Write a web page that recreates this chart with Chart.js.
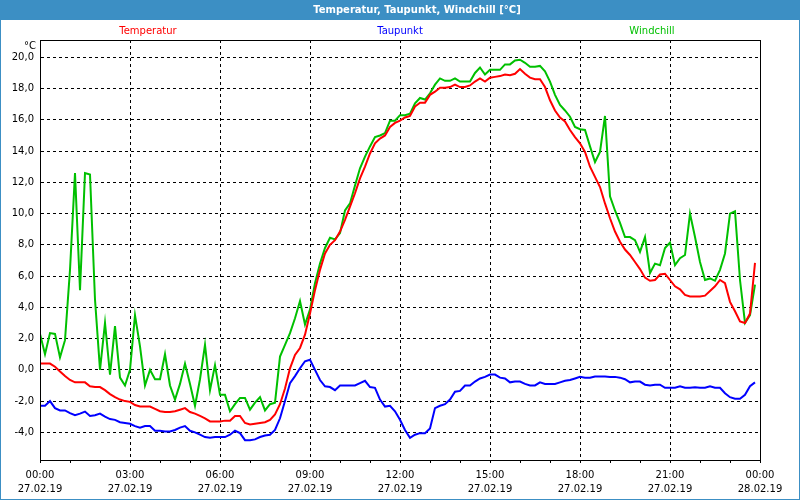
<!DOCTYPE html>
<html>
<head>
<meta charset="utf-8">
<title>Temperatur, Taupunkt, Windchill</title>
<script src="https://cdn.jsdelivr.net/npm/chart.js@4.4.1/dist/chart.umd.min.js"></script>
<style>
  html, body { margin: 0; padding: 0; background: #fff; }
  canvas { display: block; }
</style>
</head>
<body>
<canvas id="chart" width="800" height="500"></canvas>
<script>
// 27.02.19, one value every 10 minutes starting at 00:00
const stepMinutes = 10;

const seriesNames = ['Temperatur', 'Taupunkt', 'Windchill'];
const seriesColors = ['#ff0000', '#0000ff', '#00c000'];

const temperatur = [
  0.4, 0.4, 0.4, 0.2, -0.1, -0.4, -0.65, -0.8, -0.8, -0.8, -1.05, -1.1,
  -1.1, -1.3, -1.55, -1.75, -1.9, -2.0, -2.05, -2.25, -2.35, -2.35, -2.35, -2.5,
  -2.65, -2.7, -2.7, -2.65, -2.55, -2.45, -2.7, -2.8, -2.95, -3.1, -3.3, -3.3,
  -3.3, -3.25, -3.25, -2.95, -2.95, -3.4, -3.5, -3.45, -3.4, -3.35, -3.2, -2.85,
  -2.2, -1.2, 0.1, 0.95, 1.4, 2.25, 3.6, 5.1, 6.4, 7.45, 8.0, 8.3,
  8.85, 9.6, 10.45, 11.3, 12.25, 13.0, 13.85, 14.5, 14.8, 15.0, 15.55, 15.8,
  15.95, 16.15, 16.25, 16.85, 17.1, 17.1, 17.6, 17.8, 18.05, 18.05, 18.1, 18.25,
  18.1, 18.1, 18.2, 18.45, 18.65, 18.45, 18.7, 18.75, 18.8, 18.9, 18.85, 18.95,
  19.25, 18.95, 18.7, 18.6, 18.6, 18.1, 17.25, 16.6, 16.15, 15.9, 15.35, 14.9,
  14.5, 13.95, 13.0, 12.35, 11.7, 10.65, 9.7, 8.85, 8.2, 7.7, 7.35, 6.9,
  6.45, 5.9, 5.7, 5.75, 6.1, 6.15, 5.75, 5.35, 5.15, 4.8, 4.7, 4.7,
  4.7, 4.75, 5.05, 5.35, 5.75, 5.55, 4.35, 3.75, 3.1, 3.0, 3.6, 6.85
];

const taupunkt = [
  -2.3, -2.3, -2.0, -2.45, -2.6, -2.6, -2.77, -2.9, -2.8, -2.67, -2.95, -2.9,
  -2.8, -3.0, -3.15, -3.2, -3.35, -3.4, -3.45, -3.6, -3.7, -3.6, -3.6, -3.9,
  -3.9, -3.95, -3.95, -3.85, -3.7, -3.6, -3.9, -4.0, -4.15, -4.3, -4.35, -4.3,
  -4.3, -4.3, -4.15, -3.9, -4.05, -4.5, -4.5, -4.45, -4.3, -4.2, -4.15, -3.85,
  -3.1, -2.0, -0.85, -0.4, 0.1, 0.55, 0.65, 0.0, -0.65, -1.05, -1.1, -1.3,
  -1.0, -1.0, -1.0, -1.0, -0.85, -0.7, -1.1, -1.15, -1.9, -2.35, -2.3, -2.65,
  -3.2, -3.85, -4.35, -4.15, -4.05, -4.05, -3.75, -2.45, -2.3, -2.2, -1.9, -1.4,
  -1.35, -1.0, -1.0, -0.75, -0.55, -0.45, -0.3, -0.3, -0.5, -0.55, -0.8, -0.75,
  -0.75, -0.9, -1.0, -1.0, -0.8, -0.9, -0.9, -0.9, -0.8, -0.7, -0.65, -0.55,
  -0.45, -0.5, -0.5, -0.43, -0.43, -0.43, -0.45, -0.45, -0.5, -0.6, -0.8, -0.75,
  -0.75, -0.95, -1.0, -0.95, -0.95, -1.15, -1.15, -1.15, -1.05, -1.15, -1.15, -1.12,
  -1.15, -1.15, -1.05, -1.15, -1.15, -1.5, -1.75, -1.85, -1.85, -1.6, -1.05, -0.8
];

const windchill = [
  2.3, 1.0, 2.35, 2.3, 0.8, 1.9, 6.4, 12.6, 5.1, 12.6, 12.5, 4.5,
  0.0, 3.0, -0.3, 2.8, -0.5, -1.0, 0.0, 3.5, 1.5, -1.0, 0.0, -0.6,
  -0.6, 1.0, -1.0, -1.9, -0.9, 0.4, -0.9, -2.3, -0.6, 1.6, -1.3, 0.3,
  -1.6, -1.6, -2.65, -2.2, -1.8, -1.8, -2.55, -2.1, -1.75, -2.6, -2.2, -2.1,
  0.85, 1.6, 2.35, 3.3, 4.4, 2.9, 3.85, 5.55, 6.8, 7.8, 8.45, 8.35,
  8.75, 10.2, 10.65, 11.8, 12.9, 13.65, 14.3, 14.9, 15.0, 15.15, 15.95, 15.95,
  16.3, 16.3, 16.4, 17.05, 17.4, 17.3, 17.7, 18.25, 18.65, 18.5, 18.5, 18.65,
  18.45, 18.45, 18.45, 19.0, 19.35, 18.9, 19.2, 19.2, 19.2, 19.55, 19.55, 19.8,
  19.85, 19.65, 19.4, 19.4, 19.45, 19.1, 18.45, 17.6, 16.95, 16.6, 16.2, 15.55,
  15.4, 15.35, 14.3, 13.3, 13.95, 16.25, 11.1, 10.2, 9.4, 8.5, 8.5, 8.3,
  7.55, 8.5, 6.2, 6.8, 6.7, 7.8, 8.15, 6.7, 7.15, 7.35, 10.0, 8.5,
  6.9, 5.75, 5.85, 5.7, 6.4, 7.45, 10.0, 10.15, 5.75, 3.0, 3.5, 5.45
];

// axis labels
const xTickTimes = ['00:00', '03:00', '06:00', '09:00', '12:00', '15:00', '18:00', '21:00', '00:00'];
const xTickDates = ['27.02.19', '27.02.19', '27.02.19', '27.02.19', '27.02.19', '27.02.19', '27.02.19', '27.02.19', '28.02.19'];
const yTicks = [-4, -2, 0, 2, 4, 6, 8, 10, 12, 14, 16, 18, 20];

const chartTitle = 'Temperatur, Taupunkt, Windchill [°C]';
const yUnit = '°C';
const frameColor = '#3c8fc4';
const fontFamily = '"DejaVu Sans", Verdana, sans-serif';

// x in hours since midnight
function toPoints(values) {
  return values.map((v, i) => ({ x: i * stepMinutes / 60, y: v }));
}

// window frame, title bar, series names above the plot, unit label
const windowFrame = {
  id: 'windowFrame',
  beforeDraw(chart) {
    const ctx = chart.ctx, w = chart.width, h = chart.height;
    ctx.save();
    ctx.fillStyle = '#ffffff';
    ctx.fillRect(0, 0, w, h);
    ctx.fillStyle = frameColor;
    ctx.fillRect(0, 0, w, 20);
    ctx.strokeStyle = frameColor;
    ctx.lineWidth = 1;
    ctx.strokeRect(0.5, 0.5, w - 1, h - 1);
    ctx.fillStyle = '#ffffff';
    ctx.font = 'bold 10px ' + fontFamily;
    ctx.textAlign = 'center';
    ctx.textBaseline = 'middle';
    ctx.fillText(chartTitle, w / 2 + 17, 10);
    ctx.restore();
  },
  afterDraw(chart) {
    const ctx = chart.ctx, a = chart.chartArea;
    ctx.save();
    ctx.strokeStyle = '#000000';
    ctx.lineWidth = 1;
    ctx.strokeRect(Math.round(a.left) + 0.5, Math.round(a.top) + 0.5,
                   Math.round(a.width), Math.round(a.height));

    ctx.font = '10px ' + fontFamily;
    ctx.textAlign = 'center';
    ctx.textBaseline = 'middle';
    const spots = [0.15, 0.5, 0.85];
    seriesNames.forEach((name, k) => {
      ctx.fillStyle = seriesColors[k];
      ctx.fillText(name, a.left + a.width * spots[k], a.top - 9);
    });

    ctx.textAlign = 'right';
    ctx.fillStyle = '#000000';
    ctx.fillText(yUnit, a.left - 4, a.top + 6);
    ctx.restore();
  }
};

const seriesValues = [temperatur, taupunkt, windchill];

new Chart(document.getElementById('chart'), {
  type: 'line',
  data: {
    datasets: seriesValues.map((vals, k) => ({
      label: seriesNames[k],
      data: toPoints(vals),
      borderColor: seriesColors[k],
      backgroundColor: seriesColors[k],
      borderWidth: 2,
      pointRadius: 0,
      tension: 0,
      fill: false
    }))
  },
  options: {
    responsive: false,
    animation: false,
    devicePixelRatio: 1,
    layout: { padding: { left: 0, top: 40, right: 40, bottom: 0 } },
    plugins: {
      legend: { display: false },
      title: { display: false },
      tooltip: { enabled: false }
    },
    scales: {
      x: {
        type: 'linear',
        min: 0,
        max: 24,
        afterFit(scale) { scale.height = 40; },
        ticks: {
          stepSize: 1,
          autoSkip: false,
          maxRotation: 0,
          minRotation: 0,
          padding: 5,
          color: '#000000',
          font: { family: fontFamily, size: 10, lineHeight: 1.45 },
          callback(v) {
            if (v % 3 !== 0) return '';
            return [xTickTimes[v / 3], xTickDates[v / 3]];
          }
        },
        grid: {
          color: (c) => (c.tick && c.tick.value % 3 === 0) ? '#000000' : 'rgba(0,0,0,0)',
          lineWidth: 1,
          drawTicks: true,
          tickLength: 3,
          tickColor: '#000000',
          tickWidth: 1
        },
        border: { display: true, color: '#000000', width: 1, dash: [3, 3] }
      },
      y: {
        type: 'linear',
        min: -5.77,
        max: 21.11,
        afterFit(scale) { scale.width = 40; },
        afterBuildTicks(scale) { scale.ticks = yTicks.map(v => ({ value: v })); },
        ticks: {
          padding: 6,
          color: '#000000',
          font: { family: fontFamily, size: 10 },
          callback: (v) => v.toFixed(1).replace('.', ',')
        },
        grid: {
          color: '#000000',
          lineWidth: 1,
          drawTicks: false
        },
        border: { display: true, color: '#000000', width: 1, dash: [3, 3] }
      }
    }
  },
  plugins: [windowFrame]
});
</script>
</body>
</html>
